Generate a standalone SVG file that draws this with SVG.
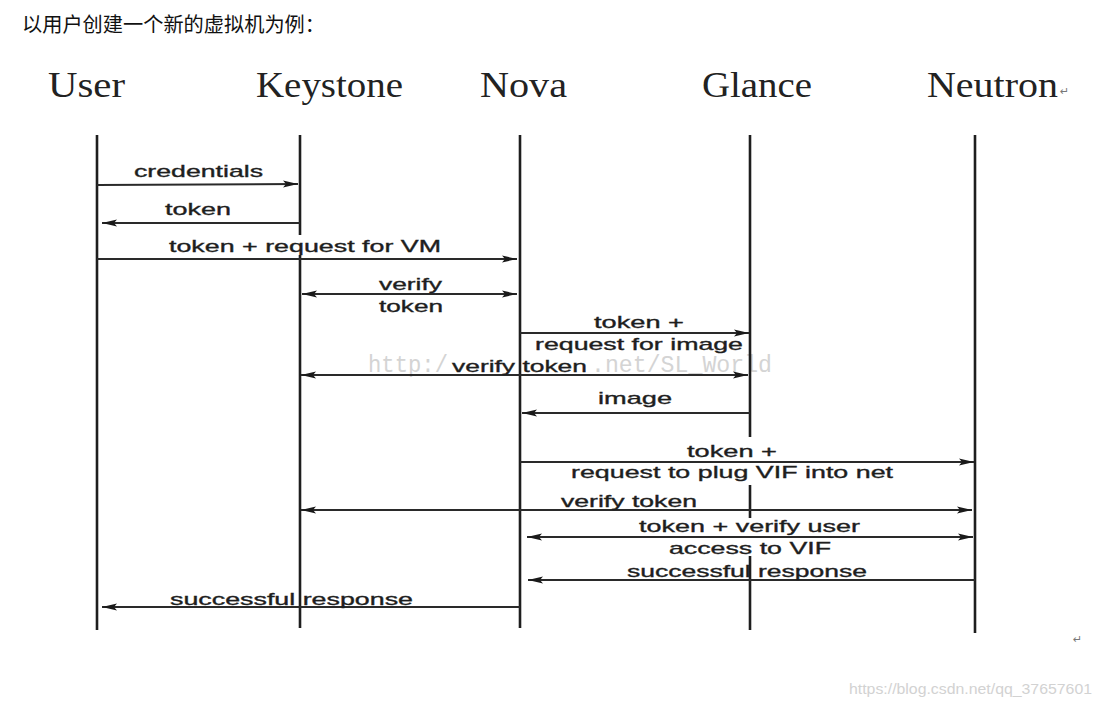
<svg xmlns="http://www.w3.org/2000/svg" width="1100" height="706" viewBox="0 0 1100 706">
<defs>
<marker id="ah" markerUnits="userSpaceOnUse" markerWidth="16" markerHeight="8" refX="15" refY="4" orient="auto-start-reverse">
<path d="M0,0.5 L15,4 L0,7.5 L3,4 Z" fill="#1a1a1a"/>
</marker>
</defs>
<style>
.title{font-family:"Noto Sans CJK SC","Noto Sans",sans-serif;font-size:20px;fill:#111}
.actor{font-family:"Liberation Serif","Times New Roman",serif;font-size:36px;fill:#222}
.life{stroke:#1e1e1e;stroke-width:2.6;fill:none}
.msg{stroke:#2a2a2a;stroke-width:2;fill:none}
.lbl{font-family:"Liberation Sans",Arial,sans-serif;font-size:17px;fill:#1e1e1e;stroke:#1e1e1e;stroke-width:0.35}
.wm{font-family:"Liberation Mono","Courier New",monospace;font-size:23px;fill:#d4d4d4}
.wm2{font-family:"Liberation Sans",Arial,sans-serif;font-size:15px;fill:#d2d2d2}
.ret{font-family:"DejaVu Sans",sans-serif;font-size:11px;fill:#777}
</style>
<rect width="1100" height="706" fill="#ffffff"/>
<text class="title" x="22" y="32" textLength="303" lengthAdjust="spacingAndGlyphs">以用户创建一个新的虚拟机为例：</text>
<g id="watermark">
<text class="wm" x="368" y="372" textLength="80" lengthAdjust="spacingAndGlyphs">http:/</text>
<text class="wm" x="591" y="372" textLength="181" lengthAdjust="spacingAndGlyphs">.net/SL_World</text>
</g>
<g id="user"><text class="actor" x="48" y="97" textLength="77" lengthAdjust="spacingAndGlyphs">User</text><line class="life" x1="97" y1="135" x2="97" y2="630"/></g>
<g id="keystone"><text class="actor" x="256" y="97" textLength="147" lengthAdjust="spacingAndGlyphs">Keystone</text><line class="life" x1="300" y1="135" x2="300" y2="235"/><line class="life" x1="300" y1="255" x2="300" y2="628"/></g>
<g id="nova"><text class="actor" x="480" y="97" textLength="87" lengthAdjust="spacingAndGlyphs">Nova</text><line class="life" x1="520" y1="135" x2="520" y2="628"/></g>
<g id="glance"><text class="actor" x="702" y="97" textLength="110" lengthAdjust="spacingAndGlyphs">Glance</text><line class="life" x1="750" y1="135" x2="750" y2="437"/><line class="life" x1="750" y1="485" x2="750" y2="518"/><line class="life" x1="750" y1="556" x2="750" y2="630"/></g>
<g id="neutron"><text class="actor" x="927" y="97" textLength="131" lengthAdjust="spacingAndGlyphs">Neutron</text><text class="ret" x="1060" y="95">↵</text><line class="life" x1="975" y1="135" x2="975" y2="633"/></g>
<g id="connectors">
<line class="msg" x1="97" y1="185" x2="298" y2="184" marker-end="url(#ah)"/>
<line class="msg" x1="300" y1="223" x2="102" y2="223" marker-end="url(#ah)"/>
<line class="msg" x1="97" y1="259" x2="517" y2="259" marker-end="url(#ah)"/>
<line class="msg" x1="302" y1="294" x2="517" y2="294" marker-start="url(#ah)" marker-end="url(#ah)"/>
<line class="msg" x1="520" y1="333" x2="749" y2="333" marker-end="url(#ah)"/>
<line class="msg" x1="301" y1="375" x2="748" y2="375" marker-start="url(#ah)" marker-end="url(#ah)"/>
<line class="msg" x1="750" y1="413" x2="522" y2="413" marker-end="url(#ah)"/>
<line class="msg" x1="520" y1="462" x2="974" y2="462" marker-end="url(#ah)"/>
<line class="msg" x1="301" y1="510" x2="972" y2="510" marker-start="url(#ah)" marker-end="url(#ah)"/>
<line class="msg" x1="527" y1="537" x2="973" y2="537" marker-start="url(#ah)" marker-end="url(#ah)"/>
<line class="msg" x1="975" y1="580" x2="528" y2="580" marker-end="url(#ah)"/>
<line class="msg" x1="520" y1="607" x2="102" y2="607" marker-end="url(#ah)"/>
</g>
<g id="labels">
<text class="lbl" x="134" y="177" textLength="129" lengthAdjust="spacingAndGlyphs">credentials</text>
<text class="lbl" x="165" y="215" textLength="66" lengthAdjust="spacingAndGlyphs">token</text>
<text class="lbl" x="169" y="252" textLength="272" lengthAdjust="spacingAndGlyphs">token + request for VM</text>
<text class="lbl" x="379" y="290" textLength="63" lengthAdjust="spacingAndGlyphs">verify</text>
<text class="lbl" x="379" y="312" textLength="64" lengthAdjust="spacingAndGlyphs">token</text>
<text class="lbl" x="594" y="328" textLength="90" lengthAdjust="spacingAndGlyphs">token +</text>
<text class="lbl" x="535" y="350" textLength="208" lengthAdjust="spacingAndGlyphs">request for image</text>
<text class="lbl" x="452" y="372" textLength="135" lengthAdjust="spacingAndGlyphs">verify token</text>
<text class="lbl" x="598" y="404" textLength="74" lengthAdjust="spacingAndGlyphs">image</text>
<text class="lbl" x="687" y="457" textLength="90" lengthAdjust="spacingAndGlyphs">token +</text>
<text class="lbl" x="571" y="478" textLength="322" lengthAdjust="spacingAndGlyphs">request to plug VIF into net</text>
<text class="lbl" x="561" y="507" textLength="136" lengthAdjust="spacingAndGlyphs">verify token</text>
<text class="lbl" x="639" y="532" textLength="221" lengthAdjust="spacingAndGlyphs">token + verify user</text>
<text class="lbl" x="669" y="554" textLength="162" lengthAdjust="spacingAndGlyphs">access to VIF</text>
<text class="lbl" x="627" y="577" textLength="240" lengthAdjust="spacingAndGlyphs">successful response</text>
<text class="lbl" x="170" y="605" textLength="243" lengthAdjust="spacingAndGlyphs">successful response</text>
</g>
<text class="ret" x="1073" y="643">↵</text>
<text class="wm2" x="849" y="694" textLength="243" lengthAdjust="spacingAndGlyphs">https://blog.csdn.net/qq_37657601</text>
</svg>
